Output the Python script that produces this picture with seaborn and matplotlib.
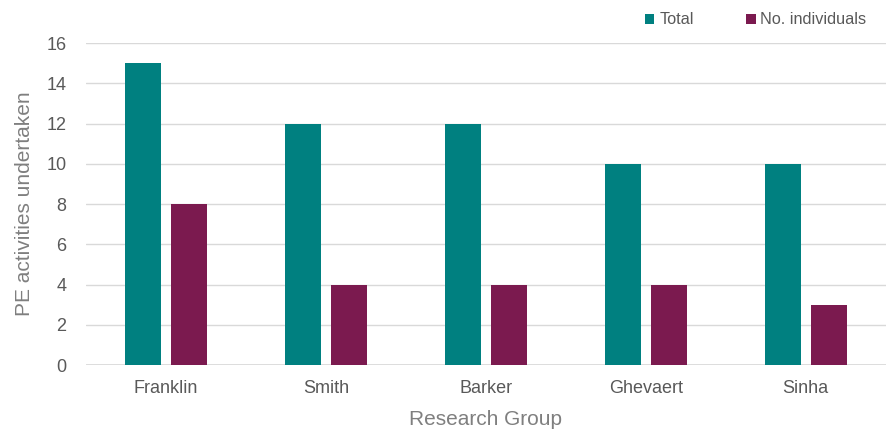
import pandas as pd
import seaborn as sns
import matplotlib.pyplot as plt

groups = ["Franklin", "Smith", "Barker", "Ghevaert", "Sinha"]
total = [15, 12, 12, 10, 10]
individuals = [8, 4, 4, 4, 3]
series_names = ["Total", "No. individuals"]

data = pd.DataFrame({
    "Research Group": groups * 2,
    "value": total + individuals,
    "series": [series_names[0]] * len(groups) + [series_names[1]] * len(groups),
})

sns.set_style("white")
plt.rcParams['font.family'] = ['Liberation Sans', 'DejaVu Sans']

fig = plt.figure(figsize=(8.91, 4.30), dpi=100)
ax = fig.add_axes([0.0965, 0.151, 0.8975, 0.749])

sns.barplot(data=data, x="Research Group", y="value", hue="series",
            palette=["#008080", "#7B1A4F"], width=0.575, gap=0.217,
            saturation=1, linewidth=0, ax=ax, legend=True)

ax.set_ylim(0, 16)
ax.set_yticks(range(0, 17, 2))
ax.yaxis.grid(True, color="#D9D9D9", linewidth=1)
ax.set_axisbelow(True)
for s in ax.spines.values():
    s.set_visible(False)
ax.axhline(0, color="#D9D9D9", linewidth=1.2, zorder=0)
ax.tick_params(axis="both", length=0, labelsize=13, labelcolor="#595959")
ax.tick_params(axis="x", pad=11)
ax.tick_params(axis="y", pad=14)
ax.set_ylabel("PE activities undertaken", fontsize=15, color="#7F7F7F", labelpad=9)
ax.set_xlabel("Research Group", fontsize=15, color="#7F7F7F", labelpad=9)

handles, labels = ax.get_legend_handles_labels()
ax.legend(handles, labels, ncol=2, loc="upper right", bbox_to_anchor=(0.989, 1.005),
          bbox_transform=fig.transFigure, frameon=False, fontsize=11.7,
          labelcolor="#595959", handlelength=0.6, handleheight=0.6,
          handletextpad=0.3, columnspacing=3.2)

fig.savefig("out.png", dpi=100)
